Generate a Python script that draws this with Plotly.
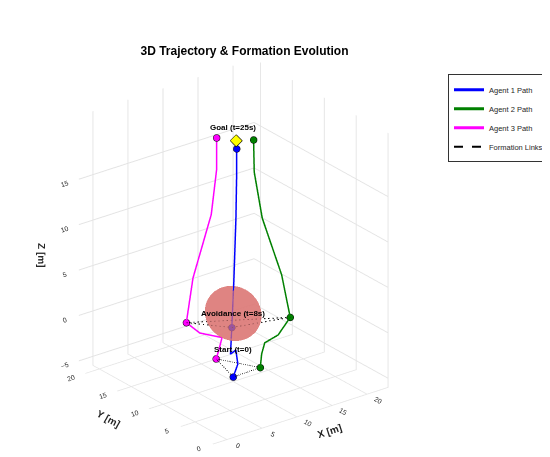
import numpy as np
import plotly.graph_objects as go

# waypoints (x, y, z) for each agent
a1_x = [10, 10.3, 10.2, 9.8, 9.8, 10.0, 10.3, 10.5, 10.5]
a1_y = [10, 9.6, 9.8, 10.2, 10.0, 9.9, 9.9, 10.0, 10.0]
a1_z = [-5.5, -4.0, -2.5, -3.0, 0.0, 5.0, 12.0, 17.0, 19.5]

a2_x = [12.5, 12.6, 12.5, 13.5, 14.5, 14.0, 12.6, 12.0, 12.0]
a2_y = [8.5, 8.4, 7.8, 6.8, 6.0, 6.8, 8.3, 8.9, 9.0]
a2_z = [-4.5, -3.0, -1.5, -0.5, 1.5, 6.0, 12.0, 17.0, 20.5]

a3_x = [9.2, 9.3, 9.5, 7.5, 6.5, 7.0, 8.6, 9.0, 9.0]
a3_y = [11.8, 11.5, 11.2, 12.5, 13.5, 13.0, 11.9, 11.5, 11.5]
a3_z = [-4.0, -3.0, -1.5, -1.0, 0.0, 5.0, 12.0, 17.0, 20.5]

start_idx = 0
avoid_idx = 4
goal = (10.6, 10.2, 20.3)
obstacle = (10, 10, 1.5)
obs_r = 3.0

paths = [(a1_x, a1_y, a1_z, "Agent 1 Path", "blue"),
         (a2_x, a2_y, a2_z, "Agent 2 Path", "green"),
         (a3_x, a3_y, a3_z, "Agent 3 Path", "magenta")]

fig = go.Figure()

u, v = np.mgrid[0:2 * np.pi:30j, 0:np.pi:20j]
fig.add_trace(go.Surface(x=obstacle[0] + obs_r * np.cos(u) * np.sin(v),
                         y=obstacle[1] + obs_r * np.sin(u) * np.sin(v),
                         z=obstacle[2] + obs_r * 0.9 * np.cos(v),
                         colorscale=[[0, "#dc7876"], [1, "#dc7876"]], opacity=0.7,
                         showscale=False, hoverinfo="skip", lighting=dict(ambient=1, diffuse=0, specular=0)))

for x, y, z, name, col in paths:
    fig.add_trace(go.Scatter3d(x=x, y=y, z=z, mode="lines", name=name, line=dict(color=col, width=3)))

for k, idx in enumerate([start_idx, avoid_idx]):
    lx = [p[0][idx] for p in paths] + [paths[0][0][idx]]
    ly = [p[1][idx] for p in paths] + [paths[0][1][idx]]
    lz = [p[2][idx] for p in paths] + [paths[0][2][idx]]
    fig.add_trace(go.Scatter3d(x=lx, y=ly, z=lz, mode="lines", name="Formation Links",
                               showlegend=(k == 0), line=dict(color="black", width=2, dash="dash")))

for x, y, z, name, col in paths:
    for idx in [start_idx, avoid_idx, -1]:
        fig.add_trace(go.Scatter3d(x=[x[idx]], y=[y[idx]], z=[z[idx]], mode="markers", showlegend=False,
                                   marker=dict(size=4, color=col, line=dict(color="black", width=1))))

fig.add_trace(go.Scatter3d(x=[goal[0]], y=[goal[1]], z=[goal[2]], mode="markers", showlegend=False,
                           marker=dict(size=4, color="yellow", symbol="diamond", line=dict(color="black", width=1))))

labels = [("Start (t=0)", 10, 10, -2.5), ("Avoidance (t=8s)", 10, 10, 1.5), ("Goal (t=25s)", 10, 10, 22)]
annotations = [dict(x=x, y=y, z=z, text="<b>" + t + "</b>", showarrow=False,
                    font=dict(size=8, color="black", family="Arial"))
               for t, x, y, z in labels]

ax = dict(showbackground=False, gridcolor="#e3e3e3", showline=False,
          tickfont=dict(size=9, color="#262626"), zeroline=False)
fig.update_layout(
    width=550, height=457, paper_bgcolor="white",
    font=dict(family="Arial", color="#262626"),
    title=dict(text="<b>3D Trajectory & Formation Evolution</b>", x=0.43, xanchor="center", y=0.915,
               font=dict(size=12, color="black")),
    margin=dict(l=0, r=0, t=30, b=0),
    legend=dict(x=0.8, y=0.915, bordercolor="#333", borderwidth=1, font=dict(size=7.5, color="#262626"),
                bgcolor="white", tracegroupgap=0),
    scene=dict(
        domain=dict(x=[0.0, 0.82], y=[0.03, 0.97]),
        xaxis=dict(ax, title=dict(text="<b>X [m]</b>", font=dict(size=10)), range=[-2, 23], tickvals=[0, 5, 10, 15, 20]),
        yaxis=dict(ax, title=dict(text="<b>Y [m]</b>", font=dict(size=10)), range=[0, 21], tickvals=[0, 5, 10, 15, 20]),
        zaxis=dict(ax, title=dict(text="<b>Z [m]</b>", font=dict(size=10)), range=[-6, 22], tickvals=[-5, 0, 5, 10, 15]),
        aspectmode="manual", aspectratio=dict(x=1.1, y=1.1, z=1.4),
        camera=dict(eye=dict(x=-1.3, y=-1.7, z=1.0), projection=dict(type="orthographic")),
        annotations=annotations,
    ),
)

fig.write_html("out.html")
